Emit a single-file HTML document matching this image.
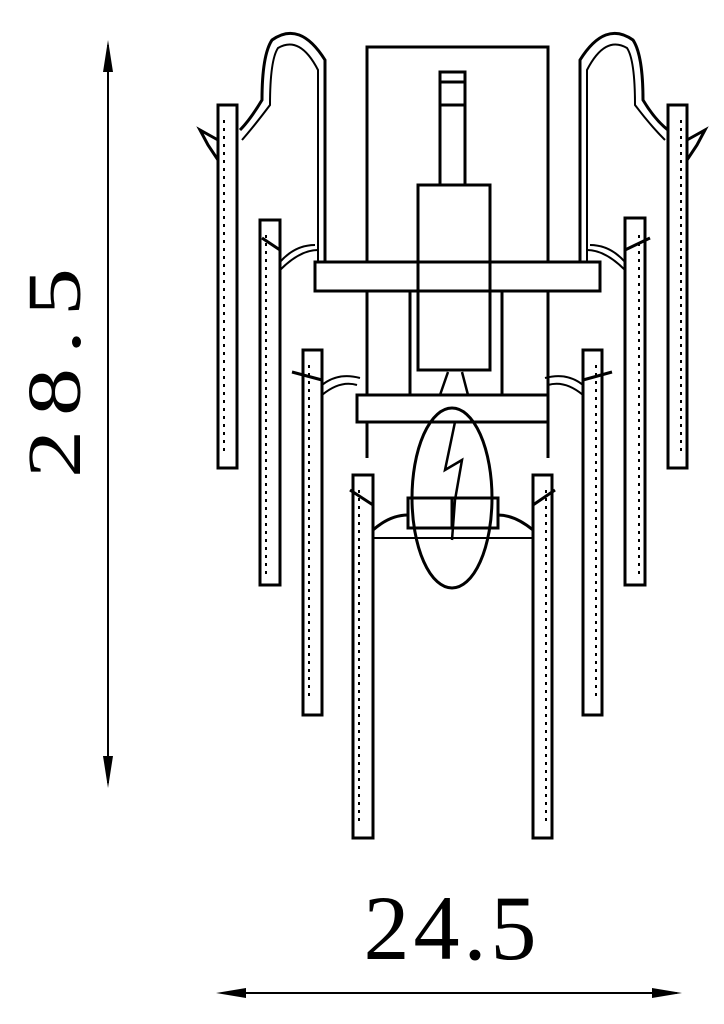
<!DOCTYPE html>
<html><head><meta charset="utf-8"><style>html,body{margin:0;padding:0;background:#fff}svg{display:block}</style></head><body>
<svg width="724" height="1024" viewBox="0 0 724 1024" xmlns="http://www.w3.org/2000/svg">
<g fill="none" stroke="#000" stroke-width="3">
<line x1="108" y1="45" x2="108" y2="783" stroke-width="2"/>
<line x1="222" y1="993" x2="677" y2="993" stroke-width="2"/>
</g>
<g fill="#000">
<path d="M108,40 L103,72 L113,72 Z"/>
<path d="M108,788 L103,756 L113,756 Z"/>
<path d="M216,993 L246,988 L246,998 Z"/>
<path d="M682,993 L652,988 L652,998 Z"/>
</g>
<g fill="none" stroke="#000" stroke-width="3">
<polyline points="367,262 367,47 548,47 548,262"/>
<line x1="367" y1="291" x2="367" y2="395"/><line x1="548" y1="291" x2="548" y2="395"/>
<line x1="367" y1="422" x2="367" y2="458"/><line x1="548" y1="422" x2="548" y2="458"/>
<rect x="440" y="72" width="25" height="113"/>
<line x1="440" y1="82" x2="465" y2="82"/><line x1="440" y1="105" x2="465" y2="105"/>
<rect x="418" y="185" width="72" height="185"/>
<line x1="410" y1="291" x2="410" y2="395"/><line x1="502" y1="291" x2="502" y2="395"/>
<rect x="315" y="262" width="285" height="29"/>
<rect x="357" y="395" width="191" height="27"/>
<ellipse cx="452" cy="498" rx="40" ry="90"/>
<path d="M448,372 L440,395 M462,372 L468,395 M455,422 L445,470 L462,460 L455,500 L452,540" stroke-width="2.5"/>
<rect x="408" y="498" width="90" height="30"/>
<line x1="452" y1="498" x2="452" y2="528"/>
<path d="M373,530 Q390,515 408,515 M498,515 Q515,515 533,530" />
<path d="M373,538 L533,538" stroke-width="2"/>
<path d="M325,262 L325,60 Q300,20 272,40 Q262,55 262,100 Q250,120 240,130" />
<path d="M318,262 L318,70 Q300,35 278,48 Q270,60 270,105 Q255,125 242,140" stroke-width="2"/>
<path d="M580,262 L580,60 Q605,20 633,40 Q643,55 643,100 Q655,120 668,130"/>
<path d="M587,262 L587,70 Q605,35 627,48 Q635,60 635,105 Q650,125 665,140" stroke-width="2"/>
<path d="M280,270 Q300,250 318,250 M280,262 Q295,245 315,245" stroke-width="2"/>
<path d="M625,270 Q605,250 587,250 M625,262 Q610,245 590,245" stroke-width="2"/>
<path d="M322,395 Q340,380 357,385 M322,385 Q338,372 360,378" stroke-width="2"/>
<path d="M583,395 Q565,380 548,385 M583,385 Q567,372 545,378" stroke-width="2"/>
<path d="M218,140 L200,130 L208,145 L218,160 M280,250 L262,238 M322,380 L292,372 M373,505 L350,490"/>
<path d="M687,140 L705,130 L697,145 L687,160 M625,250 L650,238 M583,380 L612,372 M533,505 L555,490"/>
<rect x="218" y="105" width="19" height="363"/>
<rect x="260" y="220" width="20" height="365"/>
<rect x="303" y="350" width="19" height="365"/>
<rect x="353" y="475" width="20" height="363"/>
<rect x="668" y="105" width="19" height="363"/>
<rect x="625" y="218" width="20" height="367"/>
<rect x="583" y="350" width="19" height="365"/>
<rect x="533" y="475" width="19" height="363"/>
</g>
<g fill="none" stroke="#000" stroke-width="2" stroke-dasharray="3,5">
<line x1="224" y1="120" x2="224" y2="455"/>
<line x1="266" y1="235" x2="266" y2="575"/>
<line x1="309" y1="365" x2="309" y2="700"/>
<line x1="359" y1="490" x2="359" y2="825"/>
<line x1="681" y1="120" x2="681" y2="455"/>
<line x1="639" y1="235" x2="639" y2="575"/>
<line x1="596" y1="365" x2="596" y2="700"/>
<line x1="546" y1="490" x2="546" y2="825"/>
</g>
<text x="0" y="0" transform="translate(80,366) rotate(-90) scale(1,0.8)" text-anchor="middle" font-family="Liberation Serif, serif" font-size="96" letter-spacing="14" fill="#000">28.5</text>
<text x="452" y="959" text-anchor="middle" font-family="Liberation Serif, serif" font-size="92" letter-spacing="4" fill="#000">24.5</text>
</svg>
</body></html>
